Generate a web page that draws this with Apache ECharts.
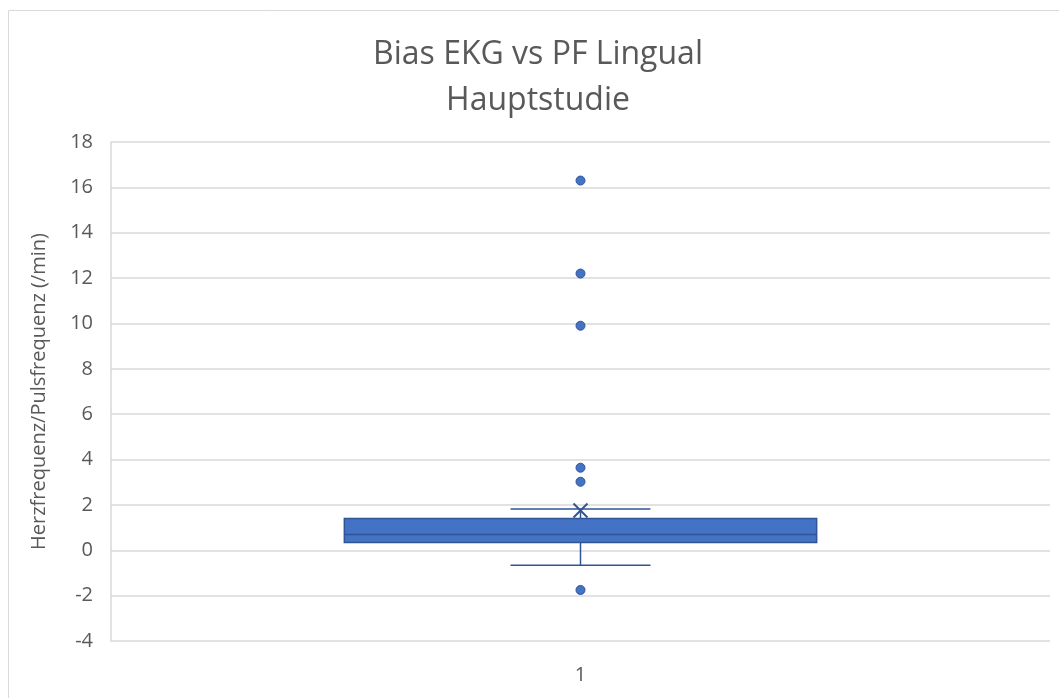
<!DOCTYPE html>
<html>
<head>
<meta charset="utf-8">
<script src="https://cdn.jsdelivr.net/npm/echarts@6/dist/echarts.min.js"></script>
<style>
  html, body { margin: 0; padding: 0; background: #fff; }
  #chart { width: 1059px; height: 698px; }
</style>
</head>
<body>
<div id="chart"></div>
<script>
// Category label on the x axis
const categories = ['1'];
// Box summary: [lower whisker, Q1, median, Q3, upper whisker]
const boxStats = [-0.66, 0.34, 0.69, 1.40, 1.82];
// Arithmetic mean, drawn as a cross
const meanValue = 1.75;
// Points outside the whiskers
const outliers = [16.3, 12.2, 9.9, 3.64, 3.02, -1.75];
// Y axis tick range
const yMin = -4, yMax = 18, yStep = 2;

const FILL = '#4472C4';
const EDGE = '#2F5597';
const TEXT = '#595959';
const GRID = '#d9d9d9';
const FONT = '"Open Sans", "Noto Sans", sans-serif';

const chart = echarts.init(document.getElementById('chart'), null, { renderer: 'canvas' });

function renderBox(params, api) {
  const cat = api.value(0);
  const center = api.coord([cat, 0])[0];
  const band = api.size([1, 0])[0];
  const halfBox = band * 0.503 / 2;
  const halfCap = band * 0.149 / 2;
  const yLo = api.coord([cat, api.value(1)])[1];
  const yQ1 = api.coord([cat, api.value(2)])[1];
  const yMed = api.coord([cat, api.value(3)])[1];
  const yQ3 = api.coord([cat, api.value(4)])[1];
  const yHi = api.coord([cat, api.value(5)])[1];
  const yMean = api.coord([cat, api.value(6)])[1];
  const lineStyle = { stroke: EDGE, lineWidth: 1.5, fill: null };
  const m = 7;
  return {
    type: 'group',
    children: [
      { type: 'line', shape: { x1: center, y1: yQ3, x2: center, y2: yHi }, style: lineStyle },
      { type: 'line', shape: { x1: center, y1: yQ1, x2: center, y2: yLo }, style: lineStyle },
      { type: 'line', shape: { x1: center - halfCap, y1: yHi, x2: center + halfCap, y2: yHi }, style: lineStyle },
      { type: 'line', shape: { x1: center - halfCap, y1: yLo, x2: center + halfCap, y2: yLo }, style: lineStyle },
      { type: 'rect', shape: { x: center - halfBox, y: yQ3, width: halfBox * 2, height: yQ1 - yQ3 },
        style: { fill: FILL, stroke: EDGE, lineWidth: 1.5 } },
      { type: 'line', shape: { x1: center - halfBox, y1: yMed, x2: center + halfBox, y2: yMed }, style: lineStyle },
      { type: 'line', shape: { x1: center - m, y1: yMean - m, x2: center + m, y2: yMean + m }, style: { stroke: EDGE, lineWidth: 2 } },
      { type: 'line', shape: { x1: center - m, y1: yMean + m, x2: center + m, y2: yMean - m }, style: { stroke: EDGE, lineWidth: 2 } }
    ]
  };
}

chart.setOption({
  backgroundColor: '#fff',
  animation: false,
  title: {
    text: 'Bias EKG vs PF Lingual\nHauptstudie',
    left: 533,
    textAlign: 'center',
    top: 27,
    textStyle: { fontFamily: FONT, fontSize: 32, fontWeight: 'normal', color: TEXT, lineHeight: 46 }
  },
  graphic: [{
    type: 'rect',
    shape: { x: 8.5, y: 10.5, width: 1070, height: 700 },
    style: { fill: null, stroke: GRID, lineWidth: 1 },
    silent: true,
    z: -1
  }],
  grid: { left: 111, right: 9, top: 142, bottom: 57, containLabel: false },
  xAxis: {
    type: 'category',
    data: categories,
    axisLine: { show: false },
    axisTick: { show: false },
    axisLabel: { color: TEXT, fontFamily: FONT, fontSize: 20, margin: 24 },
    splitLine: { show: false }
  },
  yAxis: {
    type: 'value',
    min: yMin,
    max: yMax,
    interval: yStep,
    name: 'Herzfrequenz/Pulsfrequenz (/min)',
    nameLocation: 'middle',
    nameGap: 62,
    nameTextStyle: { color: TEXT, fontFamily: FONT, fontSize: 20 },
    axisLine: { show: true, lineStyle: { color: GRID, width: 1.5 } },
    axisTick: { show: false },
    axisLabel: { color: TEXT, fontFamily: FONT, fontSize: 20, margin: 18 },
    splitLine: { show: true, lineStyle: { color: GRID, width: 1.5 } }
  },
  series: [
    {
      type: 'custom',
      renderItem: renderBox,
      encode: { x: 0, y: [1, 2, 3, 4, 5, 6] },
      data: [[0].concat(boxStats, [meanValue])],
      z: 2
    },
    {
      type: 'scatter',
      data: outliers.map(v => [0, v]),
      symbol: 'circle',
      symbolSize: 9,
      itemStyle: { color: FILL, borderColor: EDGE, borderWidth: 1, opacity: 1 },
      z: 3
    }
  ]
});
</script>
</body>
</html>
